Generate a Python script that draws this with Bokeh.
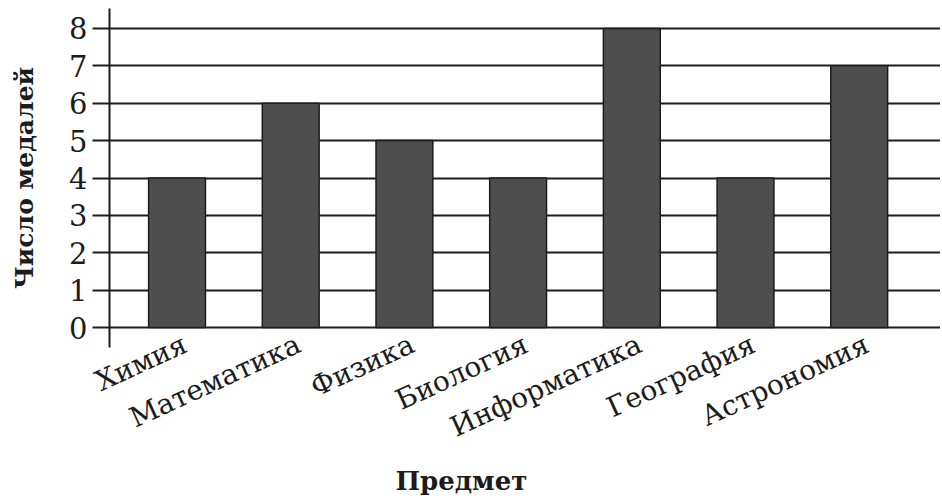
from bokeh.plotting import figure
from bokeh.models import FixedTicker, Range1d, Title, ColumnDataSource
from bokeh.embed import file_html
from bokeh.resources import INLINE

subjects = ["Химия", "Математика", "Физика", "Биология", "Информатика", "География", "Астрономия"]
medals = [4, 6, 5, 4, 8, 4, 7]
y_ticks = [0, 1, 2, 3, 4, 5, 6, 7, 8]
x_pos = list(range(len(subjects)))

FONT = "DejaVu Serif"
INK = "#1c1c1c"
LABEL_SHIFT = 0.07  # category label anchor sits slightly right of the bar centre

src = ColumnDataSource(dict(x=x_pos, top=medals))

p = figure(width=940, height=498, output_backend="svg", toolbar_location=None,
           x_range=Range1d(-0.594, 6.715), y_range=Range1d(-0.535, 8.535),
           min_border_left=109, min_border_right=0, min_border_top=8, min_border_bottom=151)
p.outline_line_color = None
p.background_fill_color = "white"
p.border_fill_color = "white"

p.vbar(x="x", top="top", bottom=0, width=0.5, source=src,
       fill_color="#4e4e4e", line_color=INK, line_width=1.5)

# y axis
p.yaxis.ticker = FixedTicker(ticks=y_ticks)
p.yaxis.axis_line_color = INK
p.yaxis.axis_line_width = 2
p.yaxis.major_tick_in = 0
p.yaxis.major_tick_out = 17
p.yaxis.major_tick_line_color = INK
p.yaxis.major_tick_line_width = 2
p.yaxis.minor_tick_line_color = None
p.yaxis.major_label_standoff = 5
p.yaxis.major_label_text_font = FONT
p.yaxis.major_label_text_font_size = "29px"
p.yaxis.major_label_text_color = INK
p.yaxis.axis_label = "Число медалей"
p.yaxis.axis_label_text_font = FONT
p.yaxis.axis_label_text_font_style = "bold"
p.yaxis.axis_label_text_font_size = "25px"
p.yaxis.axis_label_text_color = INK
p.yaxis.axis_label_standoff = 27

# x axis: category names only
label_ticks = [round(x + LABEL_SHIFT, 2) for x in x_pos]
xa = p.xaxis[0]
xa.ticker = FixedTicker(ticks=label_ticks)
xa.major_label_overrides = {t: s for t, s in zip(label_ticks, subjects)}
xa.major_label_orientation = 0.43
xa.axis_line_color = None
xa.major_tick_line_color = None
xa.minor_tick_line_color = None
xa.major_tick_in = 0
xa.major_tick_out = 0
xa.major_label_standoff = -5
xa.major_label_text_font = FONT
xa.major_label_text_font_size = "28px"
xa.major_label_text_color = INK

p.xgrid.grid_line_color = None
p.ygrid.ticker = FixedTicker(ticks=y_ticks)
p.ygrid.grid_line_color = INK
p.ygrid.grid_line_width = 2
p.ygrid.grid_line_alpha = 1

p.add_layout(Title(text="Предмет", align="left", offset=286, standoff=4,
                   text_font=FONT, text_font_style="bold", text_font_size="26px",
                   text_color=INK), "below")

open("out.html", "w").write(file_html(p, INLINE))
